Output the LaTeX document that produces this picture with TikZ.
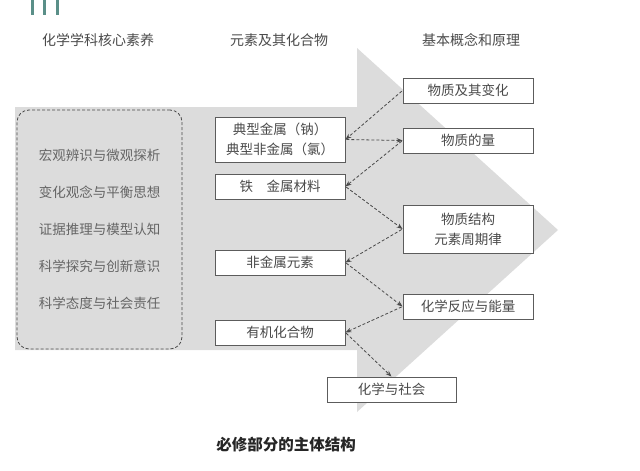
\documentclass[tikz,border=0pt]{standalone}
\usepackage{fontspec}
\setmainfont{Noto Sans CJK SC}
\usetikzlibrary{arrows.meta}
\definecolor{arrowgray}{HTML}{DCDCDC}
\definecolor{inkgray}{HTML}{4A4A4A}
\definecolor{barteal}{HTML}{5A8F88}
\tikzset{
  topic/.style={draw=inkgray!90,fill=white,line width=0.9pt,minimum width=130pt,
    minimum height=25pt,inner sep=0pt,align=center,text=inkgray,
    font=\fontsize{13.5}{20}\selectfont},
  link/.style={->,dashed,dash pattern=on 3pt off 2pt,inkgray,line width=0.8pt,
    shorten <=1pt},
  head/.style={text=inkgray,font=\fontsize{14}{16}\selectfont}
}
\begin{document}
\begin{tikzpicture}[x=1pt,y=-1pt,>={Stealth[length=6pt,width=4.5pt]}]
\useasboundingbox (0,0) rectangle (640,471);
\foreach \bx in {32,44,57} \draw[barteal,line width=3pt] (\bx,0)--(\bx,15);
\fill[arrowgray] (15,107)--(357,107)--(357,48)--(558,230)--(357,412)--(357,350)--(15,350)--cycle;
\node[head] (h1) at (98,40) {化学学科核心素养};
\node[head] (h2) at (279,40) {元素及其化合物};
\node[head] (h3) at (471,40) {基本概念和原理};
\node[draw=inkgray,dashed,dash pattern=on 3pt off 2pt,line width=0.8pt,rounded corners=12pt,
  fill=arrowgray,minimum width=165pt,minimum height=239pt,align=center,text=inkgray!85,
  font=\fontsize{13.5}{37}\selectfont] (core) at (99.5,229.5)
  {宏观辨识与微观探析\\变化观念与平衡思想\\证据推理与模型认知\\科学探究与创新意识\\科学态度与社会责任};
% elements
\node[topic,minimum height=45pt] (m1) at (280,139.5) {典型金属（钠）\\典型非金属（氯）};
\node[topic] (m2) at (280,186.5) {铁\hspace{1em}金属材料};
\node[topic] (m3) at (280,262.5) {非金属元素};
\node[topic] (m4) at (280,332.5) {有机化合物};
% concepts
\node[topic] (r1) at (468,90.5) {物质及其变化};
\node[topic] (r2) at (468,140.5) {物质的量};
\node[topic,minimum height=48pt] (r3) at (468,229) {物质结构\\元素周期律};
\node[topic] (r4) at (468,306.5) {化学反应与能量};
\node[topic,minimum width=129pt] (r5) at (391.5,389.5) {化学与社会};
\draw[link] (r1.west)--(m1.east);
\draw[link] (m1.east)--(r2.west);
\draw[link] (r2.west)--(m2.east);
\draw[link] (m2.east)--(r3.west);
\draw[link] (r3.west)--(m3.east);
\draw[link] (m3.east)--(r4.west);
\draw[link] (r4.west)--(m4.east);
\draw[link] (m4.east)--(r5.north);
\node[font=\fontsize{15.5}{18}\selectfont\bfseries,text=black!85] (cap) at (286,445) {必修部分的主体结构};
\end{tikzpicture}
\end{document}
